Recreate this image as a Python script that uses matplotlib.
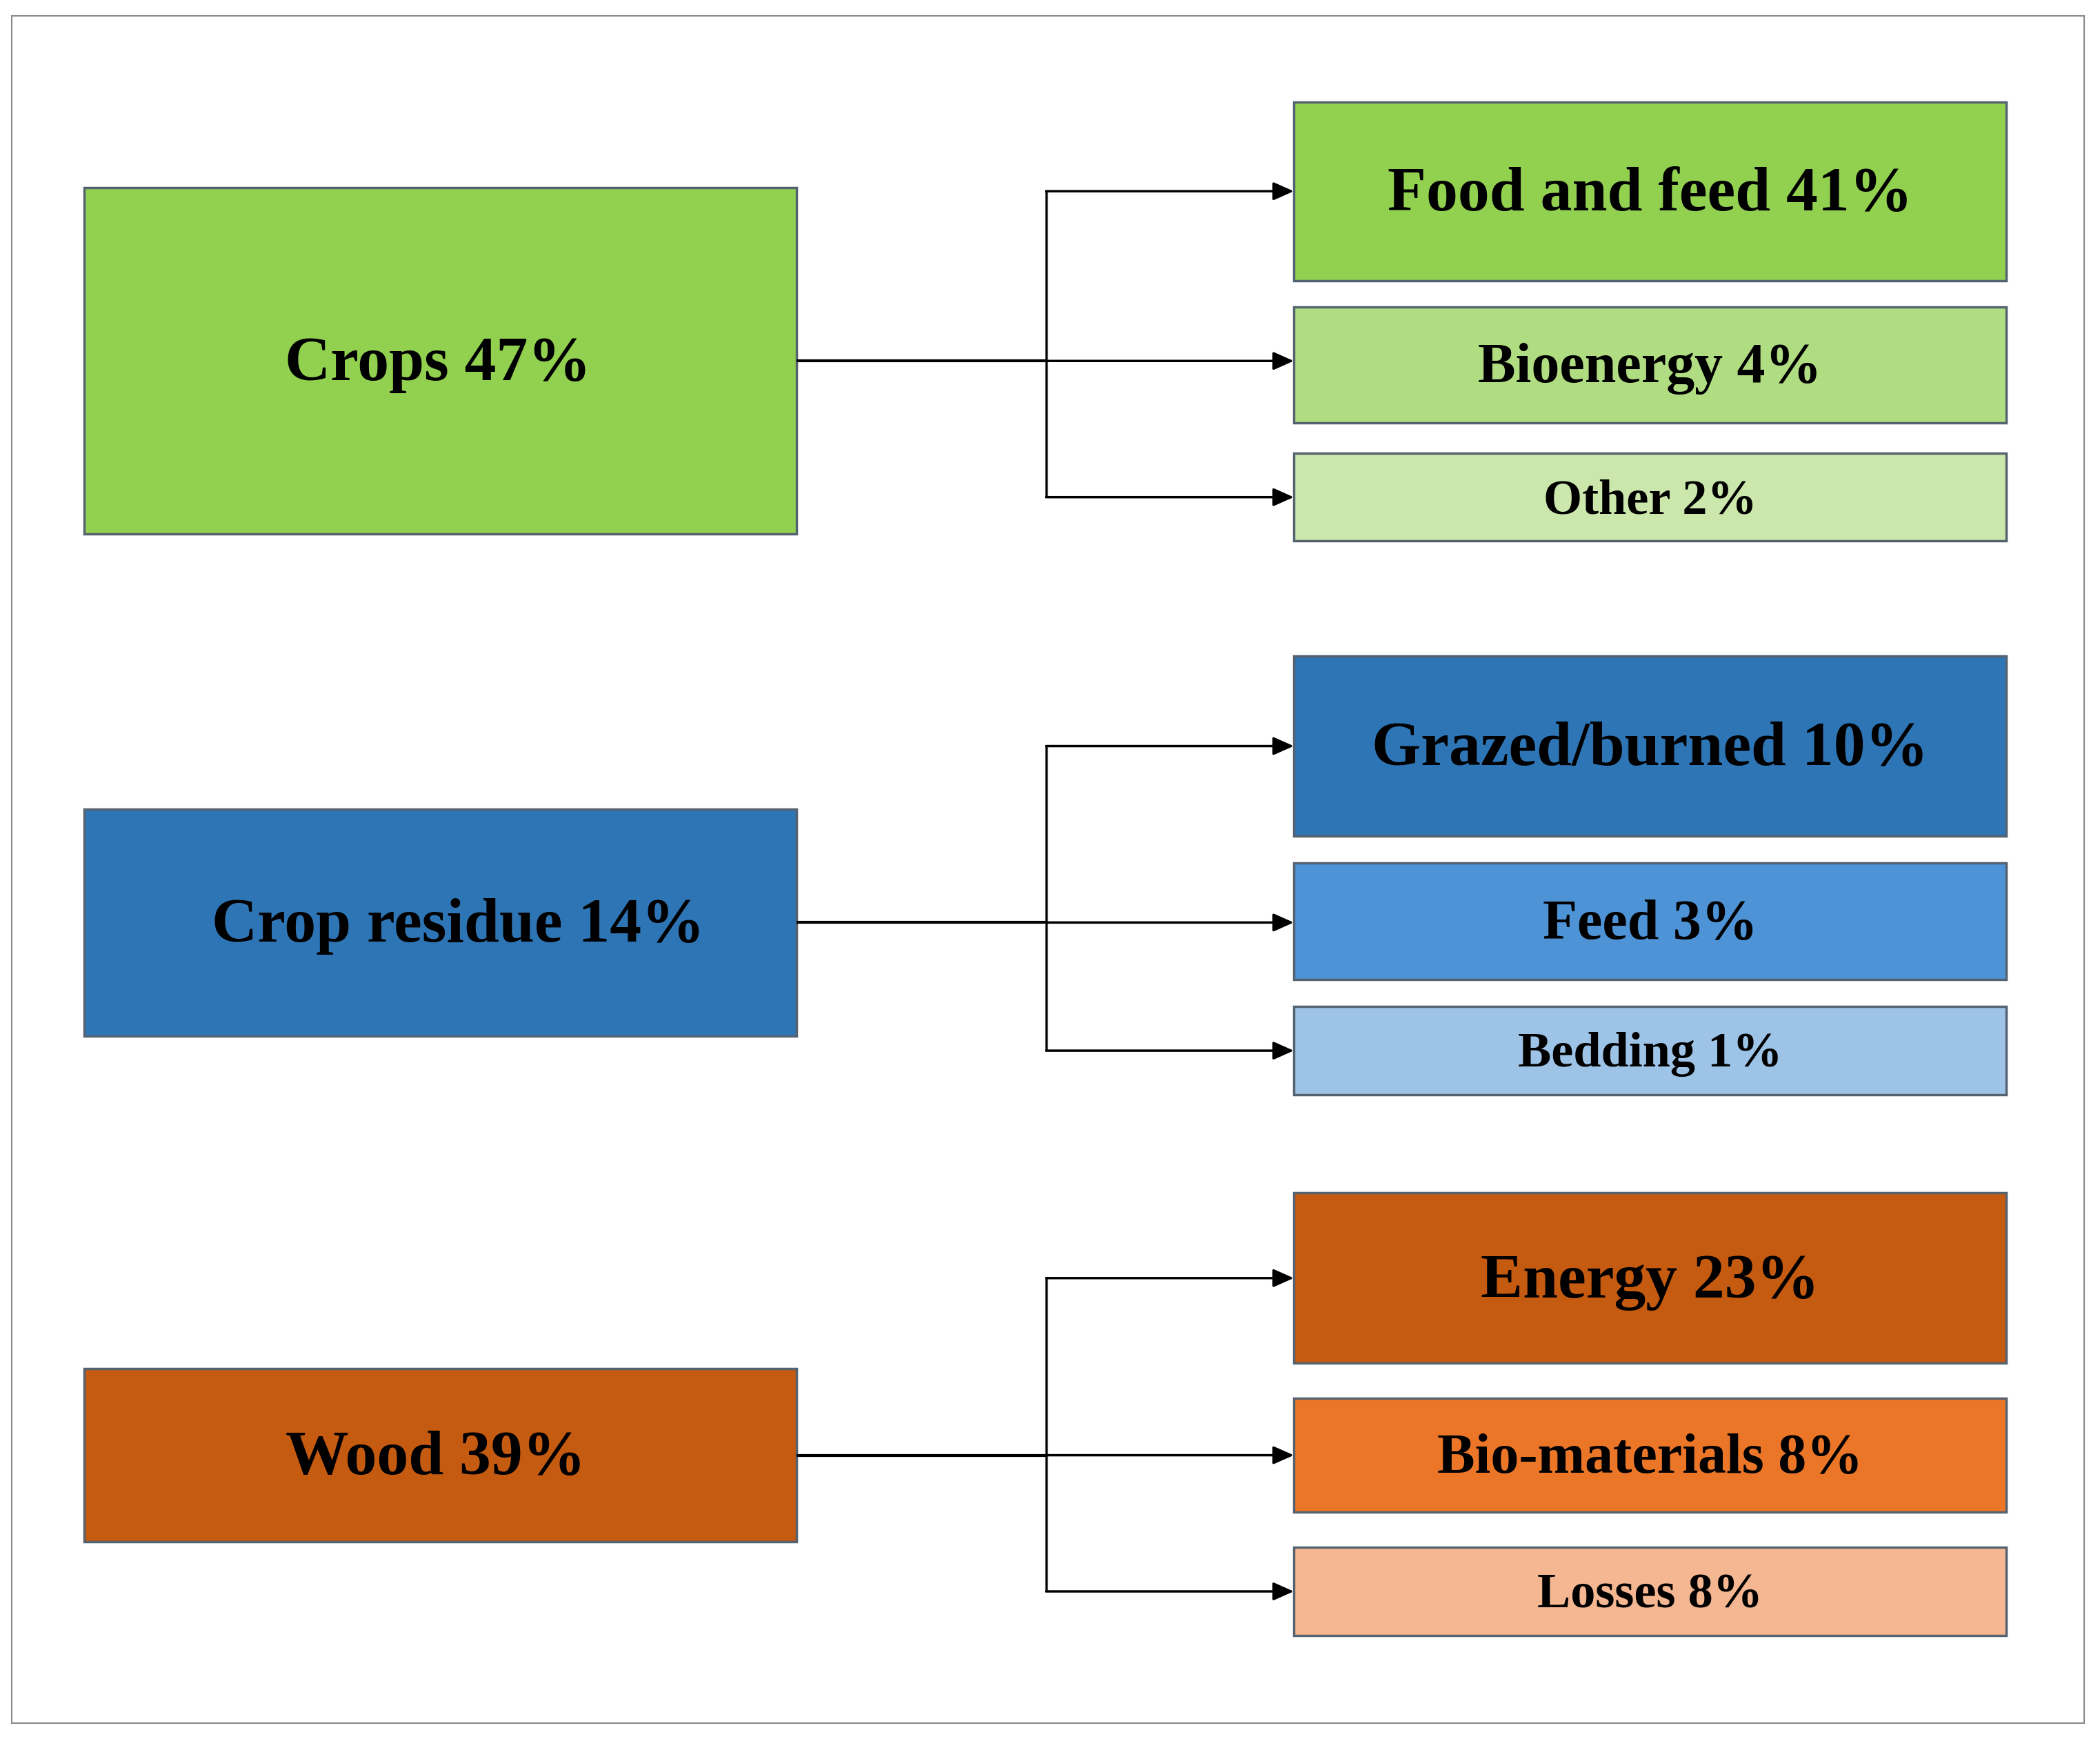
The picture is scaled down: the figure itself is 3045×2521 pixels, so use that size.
import matplotlib
matplotlib.use("Agg")
import matplotlib.pyplot as plt
from matplotlib.patches import Rectangle

# ---- data ----
sources = ["Crops", "Crop residue", "Wood"]
source_pct = [47, 14, 39]
targets = [["Food and feed", "Bioenergy", "Other"],
           ["Grazed/burned", "Feed", "Bedding"],
           ["Energy", "Bio-materials", "Losses"]]
target_pct = [[41, 4, 2],
              [10, 3, 1],
              [23, 8, 8]]
source_colors = ["#92D050", "#2E75B6", "#C55A11"]
target_colors = [["#92D050", "#B0DC82", "#CBE7AB"],
                 ["#2E75B6", "#4D93D6", "#9DC3E6"],
                 ["#C55A11", "#EC7628", "#F5B791"]]

# ---- layout (canvas units) ----
W, H = 1568, 1296
src_x = (63, 595)
src_y = [(140, 398), (603, 772), (1020, 1149)]
src_text_dx = [-2, 13, -4]
tgt_x = (966, 1498)
tgt_y = [[(76, 209), (229, 315), (338, 403)],
         [(489, 623), (643, 730), (750, 816)],
         [(889, 1016), (1042, 1127), (1153, 1219)]]
branch_x = 781
tgt_fs = [66, 59, 52]
src_fs = 66
edge_col = "#556270"

plt.rcParams['font.family'] = ['Liberation Serif', 'DejaVu Serif']
fig = plt.figure(figsize=(30.45, 25.21), dpi=100)
ax = fig.add_axes([0, 0, 1, 1])
ax.set_xlim(0, W)
ax.set_ylim(H, 0)
ax.axis('off')

# outer frame
ax.add_patch(Rectangle((9, 12), 1556 - 9, 1284 - 12, fill=False,
                       edgecolor="#8a8a8a", lw=1.5))

for g in range(len(sources)):
    y0, y1 = src_y[g]
    ax.add_patch(Rectangle((src_x[0], y0), src_x[1] - src_x[0], y1 - y0,
                           facecolor=source_colors[g], edgecolor=edge_col, lw=2.5))
    cy = (y0 + y1) / 2
    ax.text((src_x[0] + src_x[1]) / 2 + src_text_dx[g], cy + 3,
            f"{sources[g]} {source_pct[g]}%",
            ha='center', va='center', fontsize=src_fs, fontweight='bold',
            color='black')
    arrow_ys = []
    for k in range(3):
        t0, t1 = tgt_y[g][k]
        ax.add_patch(Rectangle((tgt_x[0], t0), tgt_x[1] - tgt_x[0], t1 - t0,
                               facecolor=target_colors[g][k], edgecolor=edge_col,
                               lw=2.5))
        tcy = (t0 + t1) / 2
        ax.text((tgt_x[0] + tgt_x[1]) / 2, tcy + 3,
                f"{targets[g][k]} {target_pct[g][k]}%",
                ha='center', va='center', fontsize=tgt_fs[k], fontweight='bold',
                color='black')
        arrow_ys.append(cy if k == 1 else tcy)
    # main line from source to branch
    ax.plot([src_x[1], branch_x], [cy, cy], color='black', lw=3,
            solid_capstyle='butt')
    # vertical branch
    ax.plot([branch_x, branch_x], [arrow_ys[0], arrow_ys[-1]], color='black',
            lw=2.5, solid_capstyle='butt')
    for ay in arrow_ys:
        ax.annotate("", xy=(tgt_x[0], ay), xytext=(branch_x, ay),
                    arrowprops=dict(arrowstyle='-|>,head_length=0.45,head_width=0.2',
                                    color='black', lw=2.5, mutation_scale=40,
                                    shrinkA=0, shrinkB=0))

fig.savefig("out.png", dpi=100, facecolor='white')
